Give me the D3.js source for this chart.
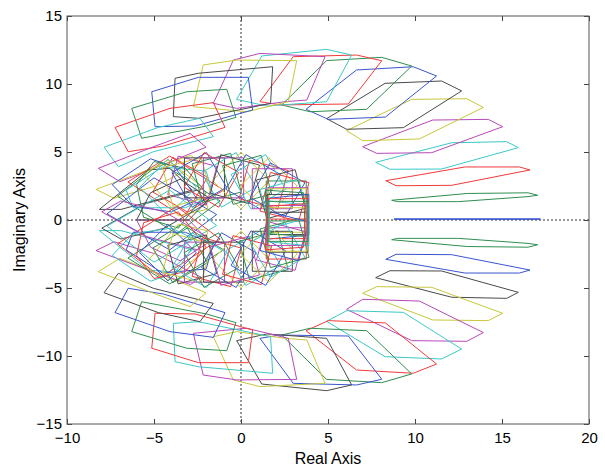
<!DOCTYPE html>
<html>
<head>
<meta charset="utf-8">
<script src="https://cdn.jsdelivr.net/npm/d3@7"></script>
<style>
  body { margin: 0; background: #fff; }
  text { font-family: "Liberation Sans", Arial, sans-serif; }
</style>
</head>
<body>
<svg id="chart" width="605" height="468"></svg>
<script>
// value sets plotted in the complex plane (real, imag)

let xTicks = [-10, -5, 0, 5, 10, 15, 20];
let yTicks = [-15, -10, -5, 0, 5, 10, 15];

// MATLAB default line colours
let palette = {
  b: "#3a55d0", g: "#2f8f50", r: "#f23a3a", c: "#3cc8c8",
  m: "#b848b8", y: "#c8c83a", k: "#4a4a4a"
};

// degenerate set lying on the real axis
let axisSet = [[8.8, 0.05], [17.2, 0.05], [17.2, 0.09], [8.8, 0.09]];

// outer ring, upper half (going counter clockwise from the real axis)
let outerUpper = [
  [[8.66,1.45],[13.0,1.95],[16.5,2.0],[17.05,1.82],[16.5,1.72],[12.5,1.35],[9.0,1.35]],
  [[8.32,2.89],[12.87,3.90],[16.0,3.90],[16.61,3.68],[12.11,2.55],[8.91,2.52]],
  [[7.74,4.24],[12.11,5.68],[15.27,5.76],[15.94,5.32],[11.53,3.75],[8.56,3.73]],
  [[6.99,5.39],[11.02,7.35],[14.21,7.40],[15.04,6.86],[10.96,4.95],[7.80,4.90]],
  [[6.07,6.57],[9.81,8.87],[12.97,8.92],[13.93,8.28],[10.25,5.96],[7.0,5.83]],
  [[4.92,7.45],[8.28,10.05],[11.53,10.22],[12.68,9.49],[9.33,6.79],[6.07,6.67]],
  [[3.74,8.14],[6.64,11.03],[9.9,11.27],[11.24,10.59],[8.3,7.57],[5.02,7.40]],
  [[2.34,8.46],[4.92,11.72],[8.09,11.96],[9.81,11.32],[7.22,8.14],[3.97,7.96]],
  [[1.09,8.70],[3.0,12.01],[6.65,12.13],[8.09,11.71],[6.17,8.53],[2.24,8.46]],
  [[-0.25,8.87],[1.19,12.06],[4.92,12.55],[6.36,12.13],[4.92,8.70],[1.48,8.38]],
  [[-1.59,8.58],[-0.44,11.76],[1.09,12.25],[4.83,12.01],[3.78,8.82],[2.53,8.70],[-0.25,8.21]],
  [[-2.74,8.33],[-2.17,11.4],[-0.25,11.76],[3.2,11.72],[2.72,8.70],[0.33,7.96]],
  [[-3.89,7.60],[-3.79,10.42],[-2.45,10.79],[1.82,11.27],[1.70,8.58],[-2.45,7.48]],
  [[-4.94,6.86],[-5.13,9.43],[-2.45,10.49],[0.42,10.49],[0.67,8.09],[-2.64,6.91]],
  [[-5.71,6.01],[-6.28,8.21],[-3.12,9.43],[-0.82,9.61],[-0.29,7.55],[-1.98,6.91]],
  [[-6.48,5.02],[-7.24,6.81],[-4.08,8.21],[-1.59,8.63],[-0.92,6.81],[-4.47,5.44]],
  [[-7.05,3.92],[-7.87,5.35],[-4.75,6.81],[-2.36,7.48],[-1.59,6.13],[-5.04,5.02]],
  [[-6.95,2.82],[-8.2,3.8],[-5.0,5.4],[-2.93,6.37],[-2.01,5.35],[-4.6,4.0]],
  [[-7.3,1.6],[-8.33,2.25],[-5.3,3.7],[-2.9,4.75],[-2.3,4.2],[-4.9,2.5]],
  [[-6.9,0.78],[-8.14,0.78],[-5.33,3.68],[-4.1,3.8],[-2.8,2.2],[-4.5,1.6]]
];
let outerUpperColors = ["g","r","c","m","y","k","b","g","r","c","m","y","k","b","g","r","c","m","y","k"];
let outerLowerColors = ["g","b","k","y","m","c","r","g","b","k","y","m","c","r","g","b","k","y","m","c"];

// inner ring, upper half
let innerUpper = [
  // left, overlapping the outer ring
  [[-7.7,0.45],[-5.0,3.1],[-1.4,0.4],[-4.1,-2.2]],
  [[-7.1,1.75],[-4.6,4.2],[-1.2,1.4],[-3.7,-1.0]],
  [[-6.5,2.8],[-4.1,4.7],[-1.0,2.2],[-3.4,0.3]],
  [[-6.2,0.9],[-3.2,0.9],[-1.6,1.8],[-2.0,3.6],[-4.5,3.9],[-6.6,2.2]],
  [[-6.0,0.0],[-3.0,0.0],[-1.8,-1.6],[-3.5,-3.0],[-5.2,-2.0]],
  [[-5.6,3.4],[-4.2,4.4],[-2.2,2.4],[-1.9,0.8],[-3.6,0.3]],
  [[-8.0,-0.6],[-5.5,1.2],[-2.5,2.2],[-2.0,1.2],[-4.4,-0.6],[-6.9,-1.4]],
  [[-7.4,2.6],[-5.2,4.5],[-3.8,3.9],[-2.5,1.5],[-4.0,0.6],[-6.2,1.0]],
  [[-5.0,4.3],[-3.2,3.8],[-2.0,2.0],[-3.6,-0.6],[-5.6,0.2],[-6.0,2.6]],
  // top arc
  [[-3.92,4.61],[-5.07,2.06],[-3.08,0.59],[-1.93,3.14]],
  [[-4.2,4.48],[-5.83,2.4],[-4.2,0.32],[-2.57,2.4]],
  [[-3.61,4.70],[-4.21,1.86],[-1.99,1.10],[-1.39,3.94]],
  [[-2.29,4.60],[-4.51,3.84],[-3.91,1.00],[-1.69,1.76]],
  [[-0.95,4.57],[-3.25,4.57],[-3.25,1.63],[-0.95,1.63]],
  [[-1.98,4.96],[-3.97,3.49],[-2.82,0.94],[-0.83,2.41]],
  [[-0.59,4.90],[-2.81,4.14],[-2.21,1.30],[0.01,2.06]],
  [[-2.12,4.96],[-3.27,2.41],[-1.28,0.94],[-0.13,3.49]],
  [[-0.28,4.96],[-2.27,3.49],[-1.12,0.94],[0.87,2.41]],
  [[0.15,4.57],[-2.15,4.57],[-2.15,1.63],[0.15,1.63]],
  [[0.0,4.98],[-1.63,2.9],[0.0,0.82],[1.63,2.9]],
  [[-1.16,4.80],[-1.76,1.96],[0.46,1.20],[1.06,4.04]],
  [[0.28,4.81],[-0.87,2.26],[1.12,0.79],[2.27,3.34]],
  [[1.16,4.75],[-1.06,3.99],[-0.46,1.15],[1.76,1.91]],
  [[0.49,4.40],[-0.11,1.56],[2.11,0.80],[2.71,3.64]],
  [[1.42,4.81],[-0.57,3.34],[0.58,0.79],[2.57,2.26]],
  [[2.95,3.77],[0.65,3.77],[0.65,0.83],[2.95,0.83]],
  [[1.6,4.58],[-0.03,2.5],[1.6,0.42],[3.23,2.5]],
  [[3.11,3.70],[0.89,2.94],[1.49,0.10],[3.71,0.86]],
  [[1.68,4.21],[0.53,1.66],[2.52,0.19],[3.67,2.74]],
  [[3.75,2.87],[1.45,2.87],[1.45,-0.07],[3.75,-0.07]],
  [[1.69,3.50],[1.09,0.66],[3.31,-0.10],[3.91,2.74]],
  [[3.31,3.0],[1.09,2.24],[1.69,-0.6],[3.91,0.16]],
  // right end, near the real axis
  [[3.85,2.37],[1.55,2.37],[1.55,-0.57],[3.85,-0.57]],
  [[3.8,2.3],[1.6,2.3],[1.6,-0.9],[3.8,-0.9]],
  [[3.8,1.87],[1.5,1.87],[1.5,-1.07],[3.8,-1.07]],
  [[3.9,1.9],[1.6,1.6],[1.6,-1.4],[3.9,-1.1]],
  [[3.6,2.0],[1.4,2.2],[1.5,-1.0],[3.7,-1.2]],
  [[3.85,1.57],[1.55,1.57],[1.55,-1.37],[3.85,-1.37]]
];
let innerUpperColors = ["b","g","r","c","m","y","k","b","g",
  "r","c","m","y","k","b","g","r","c","m","y","k","b","g","r","c","m","y","k","b","g","r","c",
  "m","y","k","b","g","r"];
let innerLowerColors = ["c","r","g","b","k","y","m","c","r",
  "g","b","k","y","m","c","r","g","b","k","y","m","c","r","g","b","k","y","m","c","r","g","b",
  "k","y","m","c","r","g"];

////////////////////////////////////////////////////////////////////////

let width = 605;
let height = 468;
let margin = ({top: 16, right: 16, bottom: 44, left: 67});

let svg = d3.select("#chart");

let xScale = d3.scaleLinear()
  .domain([-10, 20])
  .range([margin.left, width - margin.right]);
let yScale = d3.scaleLinear()
  .domain([-15, 15])
  .range([height - margin.bottom, margin.top]);

let x0 = margin.left, x1 = width - margin.right;
let y0 = height - margin.bottom, y1 = margin.top;

// lower half sets are the complex conjugates of the upper ones
function conj(p) { return p.map(v => [v[0], -v[1]]); }

let sets = [];
outerUpper.forEach((p, i) => sets.push({pts: p, col: outerUpperColors[i]}));
outerUpper.forEach((p, i) => sets.push({pts: conj(p), col: outerLowerColors[i]}));
sets.push({pts: axisSet, col: "b"});
innerUpper.forEach((p, i) => sets.push({pts: p, col: innerUpperColors[i]}));
innerUpper.forEach((p, i) => sets.push({pts: conj(p), col: innerLowerColors[i]}));

let line = d3.line()
  .x(d => xScale(d[0]))
  .y(d => yScale(d[1]));

let plotArea = svg.append("g");

// dotted axes through the origin
plotArea.append("line")
  .attr("x1", xScale(0)).attr("x2", xScale(0))
  .attr("y1", y1).attr("y2", y0)
  .attr("stroke", "#333").attr("stroke-width", 1)
  .attr("stroke-dasharray", "2,2");
plotArea.append("line")
  .attr("x1", x0).attr("x2", x1)
  .attr("y1", yScale(0)).attr("y2", yScale(0))
  .attr("stroke", "#333").attr("stroke-width", 1)
  .attr("stroke-dasharray", "2,2");

plotArea.selectAll("path.vs")
  .data(sets)
  .enter()
  .append("path")
  .attr("class", "vs")
  .attr("d", d => line(d.pts.concat([d.pts[0]])))
  .attr("fill", "none")
  .attr("stroke", d => palette[d.col])
  .attr("stroke-width", 1);

// axes with inward ticks on all four sides
let tick = 5;
svg.append("g")
  .attr("transform", `translate(0,${y0})`)
  .call(d3.axisBottom(xScale).tickValues(xTicks).tickSize(-tick).tickPadding(8).tickSizeOuter(0));
svg.append("g")
  .attr("transform", `translate(0,${y1})`)
  .call(d3.axisTop(xScale).tickValues(xTicks).tickSize(-tick).tickFormat("").tickSizeOuter(0));
svg.append("g")
  .attr("transform", `translate(${x0},0)`)
  .call(d3.axisLeft(yScale).tickValues(yTicks).tickSize(-tick).tickPadding(5).tickSizeOuter(0));
svg.append("g")
  .attr("transform", `translate(${x1},0)`)
  .call(d3.axisRight(yScale).tickValues(yTicks).tickSize(-tick).tickFormat("").tickSizeOuter(0));

svg.selectAll(".domain").remove();
svg.selectAll(".tick line").attr("stroke", "#444");
svg.selectAll(".tick text")
  .attr("fill", "#000")
  .style("font-size", "15px")
  .style("font-family", "'Liberation Sans', Arial, sans-serif");

svg.append("rect")
  .attr("x", x0).attr("y", y1)
  .attr("width", x1 - x0).attr("height", y0 - y1)
  .attr("fill", "none")
  .attr("stroke", "#555").attr("stroke-width", 1);

svg.append("text")
  .attr("x", (x0 + x1) / 2)
  .attr("y", height - 4)
  .style("text-anchor", "middle")
  .style("font-size", "16px")
  .text("Real Axis");

svg.append("text")
  .attr("transform", "rotate(-90)")
  .attr("x", -(y0 + y1) / 2)
  .attr("y", 25)
  .style("text-anchor", "middle")
  .style("font-size", "16px")
  .text("Imaginary Axis");
</script>
</body>
</html>
